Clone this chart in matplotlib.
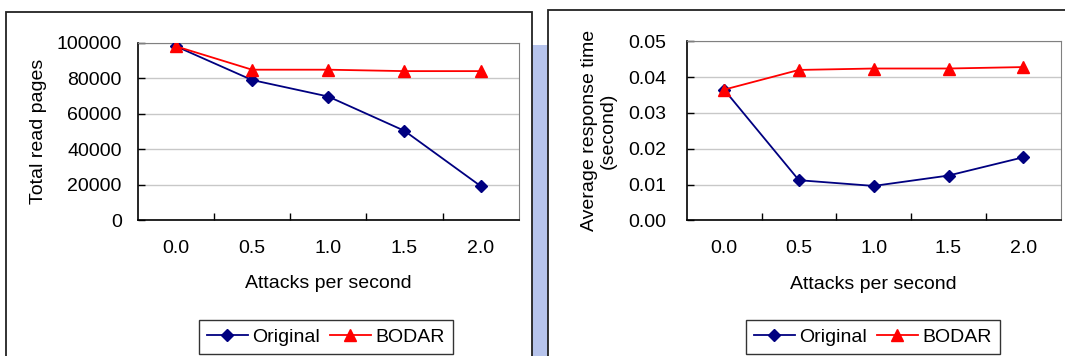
import matplotlib
matplotlib.use("Agg")
import matplotlib.pyplot as plt
from matplotlib.patches import Rectangle

plt.rcParams["font.family"] = ["Liberation Sans", "DejaVu Sans"]

# data
attacks = ["0.0", "0.5", "1.0", "1.5", "2.0"]
pages_original = [98000, 79000, 69700, 50400, 19300]
pages_bodar = [98000, 84800, 84800, 84000, 84000]
resp_original = [0.0365, 0.0112, 0.0096, 0.0125, 0.0176]
resp_bodar = [0.0365, 0.0420, 0.0424, 0.0424, 0.0428]

W, H = 1065, 356
FS = 14
NAVY, RED = "#000080", "#ff0000"


def px(x0, y0, x1, y1):
    """pixel box (left, top, right, bottom) -> figure fraction rect"""
    return [x0 / W, 1 - y1 / H, (x1 - x0) / W, (y1 - y0) / H]


def panel(fig, rect, orig, bodar, ylim, yticks, yfmt, ylabel, ylab_x, ypad, leg_c):
    ax = fig.add_axes(px(*rect))
    xs = range(len(attacks))
    ax.plot(xs, orig, color=NAVY, lw=1.3, marker="D", ms=6.5, mfc=NAVY, mec=NAVY,
            label="Original", zorder=3)
    ax.plot(xs, bodar, color=RED, lw=1.3, marker="^", ms=9, mfc=RED, mec=RED,
            label="BODAR", zorder=4)
    ax.set_xlim(-0.5, len(attacks) - 0.5)
    ax.set_ylim(*ylim)
    ax.set_yticks(yticks)
    ax.set_yticklabels([yfmt.format(v) for v in yticks])
    ax.grid(axis="y", color="#c8c8c8", lw=1)
    ax.set_axisbelow(True)
    # category boundaries as major ticks, labels on minor ticks at centres
    ax.set_xticks([i + 0.5 for i in range(len(attacks) - 1)])
    ax.set_xticklabels([])
    ax.set_xticks(list(xs), minor=True)
    ax.set_xticklabels(attacks, minor=True, fontsize=FS)
    ax.tick_params(axis="x", which="major", direction="in", length=5, width=1)
    ax.tick_params(axis="x", which="minor", length=0, pad=14)
    ax.tick_params(axis="y", direction="in", length=5, width=1, labelsize=FS, pad=ypad)
    for s in ("top", "right"):
        ax.spines[s].set_color("#808080")
    for s in ("left", "bottom"):
        ax.spines[s].set_color("black")
        ax.spines[s].set_linewidth(1.2)
    ax.set_xlabel("Attacks per second", fontsize=FS)
    ax.xaxis.set_label_coords(0.5, -0.31)
    ax.set_ylabel(ylabel, fontsize=FS, linespacing=1.15)
    ax.yaxis.set_label_coords(ylab_x, 0.5)
    leg = ax.legend(loc="center", bbox_to_anchor=(leg_c[0] / W, 1 - leg_c[1] / H),
                    bbox_transform=fig.transFigure, ncol=2, fontsize=FS,
                    frameon=True, fancybox=False, edgecolor="black",
                    handlelength=2.1, handletextpad=0.25, columnspacing=0.5,
                    borderpad=0.4, borderaxespad=0)
    leg.get_frame().set_linewidth(1.0)
    return ax


fig = plt.figure(figsize=(W / 100, H / 100), dpi=100)

# faint watermark strip showing between the two panels
fig.add_artist(Rectangle((532 / W, 0), 16 / W, 1 - 45 / H, transform=fig.transFigure,
                         facecolor="#b7c4ec", edgecolor="none", zorder=0))

# panel frames
fig.add_artist(Rectangle((6 / W, -0.1), (531.5 - 6) / W, 1.1 - 12 / H,
                         transform=fig.transFigure, fill=False, edgecolor="#222222",
                         lw=1.3, zorder=1))
fig.add_artist(Rectangle((548 / W, -0.1), 0.6, 1.1 - 9.5 / H,
                         transform=fig.transFigure, fill=False, edgecolor="#222222",
                         lw=1.3, zorder=1))

panel(fig, (137.7, 42.7, 518.7, 220.3), pages_original, pages_bodar,
      (0, 100000), list(range(0, 100001, 20000)), "{:d}",
      "Total read pages", -0.238, 11.5, (326, 337))
panel(fig, (686.7, 41.3, 1060.7, 220.3), resp_original, resp_bodar,
      (0, 0.05), [0.0, 0.01, 0.02, 0.03, 0.04, 0.05], "{:.2f}",
      "Average response time\n(second)", -0.186, 14.5, (873, 337))

fig.savefig("out.png", dpi=100)
